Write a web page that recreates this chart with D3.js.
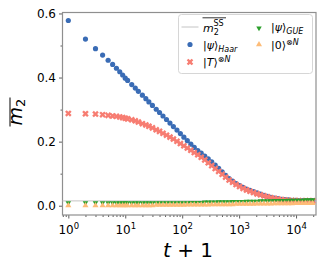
<!DOCTYPE html>
<html>
<head>
<meta charset="utf-8">
<script src="https://cdn.jsdelivr.net/npm/d3@7"></script>
<style>
    body { margin: 0; background: #fff; }
    svg text { font-family: "DejaVu Sans", sans-serif; fill: #000; }
</style>
</head>
<body>
<div id="graphHolder"></div>
<script>
'use strict'
// t + 1 sample points
var tPlus1 = [1, 2, 3, 4, 5, 6, 7, 8, 9, 10, 11, 13, 15, 17, 20, 23, 26, 30, 35, 40,
    46, 53, 61, 70, 81, 93, 107, 123, 142, 163, 188, 216, 249, 287, 330, 380, 437, 503,
    579, 667, 768, 884, 1018, 1172, 1349, 1553, 1788, 2058, 2369, 2728, 3140, 3615,
    4162, 4791, 5516, 6350, 7310, 8415, 9688, 11153, 12839, 14780, 17015, 19588];

var haar = [0.578, 0.520, 0.490, 0.470, 0.454, 0.441, 0.429, 0.418, 0.408, 0.398, 0.391,
    0.378, 0.367, 0.357, 0.345, 0.334, 0.324, 0.313, 0.301, 0.291, 0.280, 0.269, 0.258,
    0.247, 0.236, 0.225, 0.214, 0.203, 0.192, 0.182, 0.172, 0.164, 0.155, 0.146, 0.137,
    0.127, 0.117, 0.106, 0.095, 0.085, 0.077, 0.069, 0.063, 0.057, 0.052, 0.048, 0.044,
    0.040, 0.036, 0.032, 0.029, 0.026, 0.024, 0.022, 0.020, 0.019, 0.018, 0.017, 0.017,
    0.016, 0.016, 0.016, 0.016, 0.016];

var tState = [0.288, 0.287, 0.286, 0.284, 0.282, 0.280, 0.279, 0.277, 0.275, 0.273, 0.271,
    0.268, 0.265, 0.261, 0.256, 0.252, 0.248, 0.243, 0.237, 0.232, 0.226, 0.220, 0.214,
    0.208, 0.201, 0.194, 0.187, 0.180, 0.173, 0.166, 0.159, 0.151, 0.143, 0.134, 0.125,
    0.116, 0.107, 0.098, 0.089, 0.080, 0.073, 0.066, 0.060, 0.054, 0.049, 0.045, 0.041,
    0.037, 0.034, 0.031, 0.028, 0.025, 0.023, 0.021, 0.019, 0.018, 0.017, 0.016, 0.016,
    0.015, 0.015, 0.015, 0.015, 0.015];

var gue = [0.009, 0.009, 0.009, 0.009, 0.009, 0.009, 0.009, 0.009, 0.009, 0.009, 0.009,
    0.009, 0.009, 0.009, 0.009, 0.009, 0.009, 0.009, 0.009, 0.009, 0.009, 0.009, 0.009,
    0.009, 0.009, 0.009, 0.009, 0.009, 0.010, 0.010, 0.010, 0.010, 0.011, 0.011, 0.011,
    0.011, 0.012, 0.012, 0.012, 0.012, 0.013, 0.013, 0.013, 0.013, 0.014, 0.014, 0.014,
    0.014, 0.015, 0.015, 0.015, 0.015, 0.016, 0.016, 0.016, 0.016, 0.017, 0.017, 0.017,
    0.017, 0.017, 0.018, 0.018, 0.018];

var zeroState = [0.001, 0.001, 0.001, 0.001, 0.001, 0.001, 0.001, 0.001, 0.001, 0.001,
    0.001, 0.001, 0.001, 0.001, 0.001, 0.001, 0.001, 0.001, 0.002, 0.002, 0.002, 0.002,
    0.002, 0.002, 0.002, 0.002, 0.002, 0.003, 0.003, 0.003, 0.003, 0.003, 0.003, 0.003,
    0.004, 0.004, 0.004, 0.004, 0.004, 0.004, 0.004, 0.005, 0.005, 0.005, 0.005, 0.005,
    0.005, 0.006, 0.006, 0.006, 0.006, 0.006, 0.007, 0.007, 0.007, 0.007, 0.007, 0.007,
    0.008, 0.008, 0.008, 0.008, 0.008, 0.008];

var m2SS = 0.015;

var yMajorTicks = [0.0, 0.2, 0.4, 0.6];
var yMinorTicks = [0.1, 0.3, 0.5];
var xMajorTicks = [1, 10, 100, 1000, 10000];
var xTickExponents = ["0", "1", "2", "3", "4"];

var _width = 324, _height = 270;
var _margins = {top: 12.5, left: 62.5, right: 8, bottom: 55};

var _svg = d3.select("div#graphHolder").append("svg")
        .attr("width", _width)
        .attr("height", _height);

var _xScale = d3.scaleLog()
        .domain([0.79, 22400])
        .range([_margins.left, _width - _margins.right]);
var _yScale = d3.scaleLinear()
        .domain([-0.029, 0.603])
        .range([_height - _margins.bottom, _margins.top]);

var colors = {
    ss: "#c4c4c4",
    haar: "#3a6cb5",
    t: "#f77d72",
    gue: "#2ca02c",
    zero: "#fdbc78"
};

renderAxes();
renderSeries();
renderLegend();
renderLabels();

function renderAxes() {
    var axesG = _svg.append("g").attr("class", "axes");
    var yStart = _height - _margins.bottom;

    // y axis
    var yAxis = d3.axisLeft(_yScale)
            .tickValues(yMajorTicks)
            .tickFormat(d3.format(".1f"))
            .tickSize(3.5)
            .tickPadding(3);
    var yG = axesG.append("g")
            .attr("transform", "translate(" + _margins.left + ",0)")
            .call(yAxis);
    yG.select(".domain").remove();
    yG.selectAll("text").style("font-size", "12px").style("font-family", "DejaVu Sans");

    var yMinor = d3.axisLeft(_yScale)
            .tickValues(yMinorTicks)
            .tickFormat("")
            .tickSize(2);
    axesG.append("g")
            .attr("transform", "translate(" + _margins.left + ",0)")
            .call(yMinor)
            .select(".domain").remove();

    // x axis
    var xAxis = d3.axisBottom(_xScale)
            .tickValues(xMajorTicks)
            .tickFormat("")
            .tickSize(3.5);
    var xG = axesG.append("g")
            .attr("transform", "translate(0," + yStart + ")")
            .call(xAxis);
    xG.select(".domain").remove();

    xG.selectAll("g.tick").each(function (d, i) {
        var t = d3.select(this).append("text")
                .attr("y", 19)
                .attr("text-anchor", "middle")
                .style("font-size", "12px")
                .style("font-family", "DejaVu Sans")
                .attr("fill", "#000");
        t.append("tspan").text("10");
        t.append("tspan")
                .attr("dy", -5)
                .style("font-size", "8.5px")
                .text(xTickExponents[i]);
    });

    var minor = [];
    [0.1, 1, 10, 100, 1000, 10000].forEach(function (dec) {
        for (var k = 2; k <= 9; k++) {
            var v = dec * k;
            if (v >= _xScale.domain()[0] && v <= _xScale.domain()[1]) minor.push(v);
        }
    });
    var xMinor = d3.axisBottom(_xScale)
            .tickValues(minor)
            .tickFormat("")
            .tickSize(2);
    axesG.append("g")
            .attr("transform", "translate(0," + yStart + ")")
            .call(xMinor)
            .select(".domain").remove();

    axesG.selectAll(".tick line").attr("stroke", "#333").attr("stroke-width", 0.8);

    // frame
    axesG.append("rect")
            .attr("x", _margins.left)
            .attr("y", _margins.top)
            .attr("width", _width - _margins.left - _margins.right)
            .attr("height", yStart - _margins.top)
            .attr("fill", "none")
            .attr("stroke", "#8f8f8f")
            .attr("stroke-width", 1.2);
}

function renderSeries() {
    var bodyG = _svg.append("g").attr("class", "body");

    bodyG.append("line")
            .attr("x1", _margins.left)
            .attr("x2", _width - _margins.right)
            .attr("y1", _yScale(m2SS))
            .attr("y2", _yScale(m2SS))
            .attr("stroke", colors.ss)
            .attr("stroke-width", 1);

    drawPoints(bodyG, haar, d3.symbolCircle, 21, 0, colors.haar);
    drawPoints(bodyG, tState, d3.symbolCross, 27, 45, colors.t);
    drawPoints(bodyG, gue, d3.symbolTriangle, 13, 180, colors.gue);
    drawPoints(bodyG, zeroState, d3.symbolTriangle, 16, 0, colors.zero);
}

function drawPoints(g, values, type, size, rot, color) {
    var sym = d3.symbol().type(type).size(size);
    g.append("g").selectAll("path")
            .data(values)
            .enter()
            .append("path")
            .attr("d", sym)
            .attr("transform", function (d, i) {
                return "translate(" + _xScale(tPlus1[i]) + "," + _yScale(d) + ") rotate(" + rot + ")";
            })
            .attr("fill", color);
}

function addMath(text, parts) {
    parts.forEach(function (p) {
        var ts = text.append("tspan").text(p.s);
        if (p.it) ts.style("font-style", "italic");
        if (p.size) ts.style("font-size", p.size + "px");
        if (p.dy) ts.attr("dy", p.dy);
        if (p.x !== undefined) ts.attr("x", p.x);
    });
}

function renderLegend() {
    var lg = _svg.append("g").attr("class", "legend");
    lg.append("rect")
            .attr("x", 178.5)
            .attr("y", 14.5)
            .attr("width", 134)
            .attr("height", 59)
            .attr("rx", 3)
            .attr("fill", "#fff")
            .attr("fill-opacity", 0.8)
            .attr("stroke", "#d6d6d6")
            .attr("stroke-width", 1);

    var rows = [27, 44.5, 62];
    var fs = 11;

    // m2 SS
    lg.append("line")
            .attr("x1", 181.5).attr("x2", 198.5)
            .attr("y1", rows[0]).attr("y2", rows[0])
            .attr("stroke", colors.ss).attr("stroke-width", 1);
    var t0 = lg.append("text").attr("x", 203).attr("y", rows[0] + 5).style("font-size", fs + "px");
    addMath(t0, [
        {s: "m", it: true},
        {s: "2", size: 8, dy: 3},
        {s: "SS", size: 8, dy: -9, x: 213.5}
    ]);
    lg.append("line")
            .attr("x1", 202.5).attr("x2", 226)
            .attr("y1", 17.8).attr("y2", 17.8)
            .attr("stroke", "#000").attr("stroke-width", 0.8);

    var sym = d3.symbol();
    lg.append("path")
            .attr("d", sym.type(d3.symbolCircle).size(21)())
            .attr("transform", "translate(190," + rows[1] + ")")
            .attr("fill", colors.haar);
    addMath(lg.append("text").attr("x", 203).attr("y", rows[1] + 4).style("font-size", fs + "px"), [
        {s: "|"}, {s: "ψ", it: true}, {s: "⟩"},
        {s: "Haar", it: true, size: 8, dy: 3}
    ]);

    lg.append("path")
            .attr("d", sym.type(d3.symbolCross).size(27)())
            .attr("transform", "translate(190," + rows[2] + ") rotate(45)")
            .attr("fill", colors.t);
    addMath(lg.append("text").attr("x", 203).attr("y", rows[2] + 4).style("font-size", fs + "px"), [
        {s: "|"}, {s: "T", it: true}, {s: "⟩"},
        {s: "⊗", size: 8, dy: -4}, {s: "N", it: true, size: 8}
    ]);

    lg.append("path")
            .attr("d", sym.type(d3.symbolTriangle).size(13)())
            .attr("transform", "translate(259," + (rows[0] + 1) + ") rotate(180)")
            .attr("fill", colors.gue);
    addMath(lg.append("text").attr("x", 271).attr("y", rows[0] + 4).style("font-size", fs + "px"), [
        {s: "|"}, {s: "ψ", it: true}, {s: "⟩"},
        {s: "GUE", it: true, size: 8, dy: 2.5}
    ]);

    lg.append("path")
            .attr("d", sym.type(d3.symbolTriangle).size(16)())
            .attr("transform", "translate(259," + rows[1] + ")")
            .attr("fill", colors.zero);
    addMath(lg.append("text").attr("x", 271).attr("y", rows[1] + 4).style("font-size", fs + "px"), [
        {s: "|0⟩"},
        {s: "⊗", size: 8, dy: -4}, {s: "N", it: true, size: 8}
    ]);
}

function renderLabels() {
    var xl = _svg.append("text")
            .attr("x", 188)
            .attr("y", 257)
            .attr("text-anchor", "middle")
            .style("font-size", "20px");
    addMath(xl, [{s: "t", it: true}, {s: " + 1"}]);

    var yl = _svg.append("g").attr("transform", "translate(22,112) rotate(-90)");
    var yt = yl.append("text")
            .attr("x", 0)
            .attr("y", 0)
            .attr("text-anchor", "middle")
            .style("font-size", "19px");
    addMath(yt, [{s: "m", it: true}, {s: "2", size: 13, dy: 3}]);
    yl.append("line")
            .attr("x1", -14.5).attr("x2", 14.5)
            .attr("y1", -12).attr("y2", -12)
            .attr("stroke", "#000").attr("stroke-width", 1);
}
</script>
</body>
</html>
